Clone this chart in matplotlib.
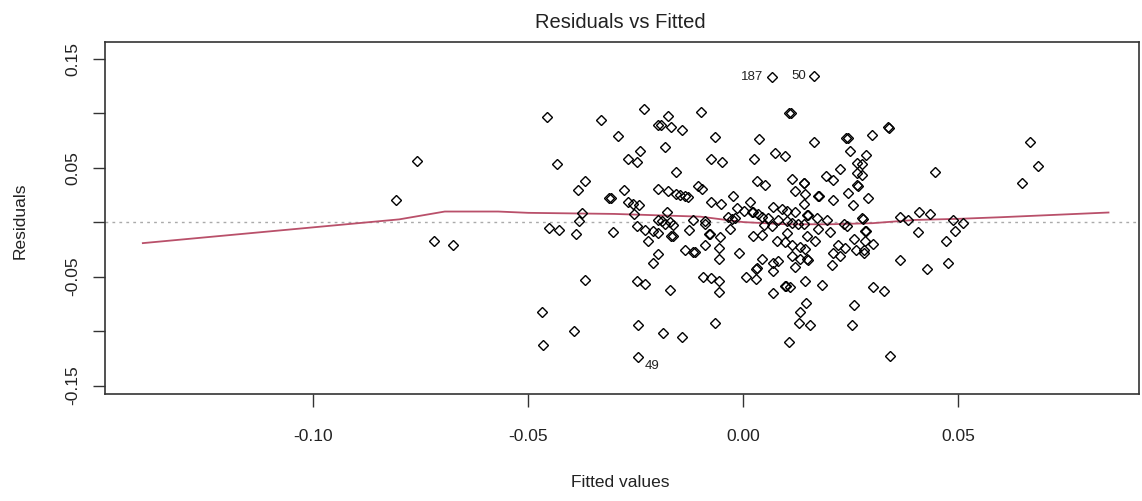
import numpy as np
import matplotlib
matplotlib.use('Agg')
import matplotlib.pyplot as plt

plt.rcParams['font.family'] = ['Liberation Sans', 'DejaVu Sans']
plt.rcParams['text.color'] = '#222222'

# fitted values / residuals
fitted = [
    -0.0808, -0.0758, -0.0719, -0.0676, -0.0457, -0.0451, -0.0469, -0.0465,
    -0.0432, -0.0331, -0.0291, -0.0230, -0.0198, -0.0240, -0.0269, -0.0248,
    -0.0367, -0.0385, -0.0312, -0.0308, -0.0277, -0.0267, -0.0257, -0.0243,
    -0.0198, -0.0374, -0.0253, -0.0381, -0.0198, -0.0428, -0.0389, -0.0302,
    -0.0248, -0.0229, -0.0209, -0.0222, -0.0198, -0.0198, -0.0211, -0.0367,
    -0.0248, -0.0229, -0.0393, -0.0244, -0.0244, -0.0186,
    -0.0174, -0.0098, -0.0192, -0.0167, -0.0142, -0.0066, -0.0182, 0.0036,
    -0.0074, -0.0050, 0.0025, -0.0157, 0.0031, -0.0174, -0.0157, -0.0147,
    -0.0136, -0.0128, -0.0106, -0.0097, -0.0076, -0.0052, -0.0023, -0.0014,
    0.0002, 0.0016, 0.0020, -0.0178, -0.0190, -0.0170, -0.0118, -0.0089,
    -0.0035, -0.0027, -0.0020,
    -0.0182, -0.0163, -0.0167, -0.0163, -0.0126, -0.0089, -0.0080, -0.0077,
    -0.0053, -0.0031, -0.0089, -0.0136, -0.0116, -0.0112, -0.0056, -0.0056,
    -0.0009, -0.0093, -0.0076, -0.0056, -0.0056, 0.0006, 0.0030, 0.0030,
    0.0023, -0.0170, -0.0066, -0.0142,
    0.0066, 0.0165, 0.0107, 0.0111, 0.0165, 0.0239, 0.0243, 0.0248,
    0.0074, 0.0097, 0.0264, 0.0225, 0.0264, 0.0192, 0.0209, 0.0113,
    0.0140, 0.0142, 0.0050, 0.0120, 0.0143, 0.0174, 0.0176, 0.0208,
    0.0244, 0.0264, 0.0256, 0.0140,
    0.0070, 0.0089, 0.0101, 0.0120, 0.0035, 0.0043, 0.0058, 0.0081,
    0.0101, 0.0114, 0.0127, 0.0140, 0.0147, 0.0150, 0.0171, 0.0194,
    0.0233, 0.0275, 0.0023, 0.0044, 0.0240,
    0.0078, 0.0097, 0.0113, 0.0132, 0.0147, 0.0143, 0.0167, 0.0174,
    0.0202, 0.0221, 0.0209, 0.0225, 0.0237, 0.0257, 0.0262, 0.0206,
    0.0113, 0.0132, 0.0147, 0.0150, 0.0120, 0.0043, 0.0070, 0.0081,
    0.0031, 0.0068, 0.0143, 0.0182, 0.0097, 0.0100, 0.0109, 0.0070,
    0.0146, 0.0132, 0.0130, 0.0155, 0.0107, 0.0257, 0.0252, 0.0066,
    0.0047, 0.0101,
    0.0336, 0.0339, 0.0300, 0.0285, 0.0275, 0.0275, 0.0267, 0.0291,
    0.0279, 0.0283, 0.0285, 0.0283, 0.0301, 0.0281, 0.0281, 0.0364,
    0.0384, 0.0409, 0.0434, 0.0446, 0.0406, 0.0488, 0.0510, 0.0492,
    0.0471, 0.0364, 0.0427, 0.0477, 0.0302, 0.0328, 0.0340, 0.0647,
    0.0667, 0.0685,
]
residuals = [
    0.0205, 0.0563, -0.0169, -0.0211, 0.0964, -0.0055, -0.0826, -0.1127,
    0.0533, 0.0933, 0.0790, 0.1038, 0.0887, 0.0655, 0.0578, 0.0547,
    0.0376, 0.0290, 0.0220, 0.0220, 0.0290, 0.0180, 0.0168, 0.0153,
    0.0303, 0.0083, 0.0070, 0.0006, 0.0020, -0.0071, -0.0110, -0.0095,
    -0.0040, -0.0071, -0.0086, -0.0169, -0.0101, -0.0294, -0.0377, -0.0530,
    -0.0539, -0.0567, -0.0998, -0.0943, -0.1240, -0.1014,
    0.0976, 0.1006, 0.0893, 0.0872, 0.0848, 0.0777, 0.0689, 0.0762,
    0.0581, 0.0547, 0.0581, 0.0459, 0.0379, 0.0281, 0.0260, 0.0250,
    0.0235, 0.0226, 0.0327, 0.0306, 0.0189, 0.0165, 0.0235, 0.0129,
    0.0104, 0.0184, 0.0097, 0.0097, 0.0006, 0.0000, 0.0020, 0.0006,
    0.0050, 0.0028, 0.0035,
    -0.0016, -0.0031, -0.0126, -0.0130, -0.0071, -0.0016, -0.0107, -0.0110,
    -0.0138, -0.0064, -0.0208, -0.0254, -0.0270, -0.0272, -0.0239, -0.0340,
    -0.0279, -0.0500, -0.0514, -0.0539, -0.0637, -0.0500, -0.0523, -0.0432,
    -0.0126, -0.0622, -0.0928, -0.1056,
    0.1331, 0.1337, 0.1001, 0.0998, 0.0735, 0.0771, 0.0768, 0.0655,
    0.0634, 0.0603, 0.0542, 0.0487, 0.0450, 0.0419, 0.0388, 0.0395,
    0.0358, 0.0362, 0.0343, 0.0281, 0.0260, 0.0244, 0.0241, 0.0205,
    0.0266, 0.0343, 0.0159, 0.0168,
    0.0134, 0.0122, 0.0104, 0.0097, 0.0073, 0.0051, 0.0042, 0.0021,
    0.0012, -0.0009, -0.0018, -0.0018, 0.0067, 0.0064, 0.0037, 0.0021,
    -0.0018, 0.0037, 0.0092, -0.0120, -0.0040,
    -0.0169, -0.0187, -0.0208, -0.0224, -0.0132, -0.0248, -0.0169, -0.0064,
    -0.0095, -0.0208, -0.0285, -0.0315, -0.0239, -0.0156, -0.0260, -0.0392,
    -0.0309, -0.0340, -0.0340, -0.0345, -0.0413, -0.0340, -0.0371, -0.0361,
    -0.0422, -0.0453, -0.0536, -0.0576, -0.0585, -0.0588, -0.0600, -0.0652,
    -0.0738, -0.0821, -0.0928, -0.0943, -0.1099, -0.0759, -0.0943, -0.0040,
    -0.0025, -0.0101,
    0.0869, 0.0866, 0.0802, 0.0618, 0.0535, 0.0434, 0.0333, 0.0220,
    0.0030, -0.0080, -0.0083, -0.0172, -0.0199, -0.0260, -0.0285, 0.0051,
    0.0015, 0.0092, 0.0076, 0.0459, -0.0095, 0.0021, -0.0009, -0.0080,
    -0.0169, -0.0352, -0.0426, -0.0371, -0.0597, -0.0628, -0.1228, 0.0358,
    0.0731, 0.0517,
]

# smoother line
smooth_x = [-0.1396, -0.0800, -0.0694, -0.0570, -0.0500, -0.0300, -0.0100,
            0.0000, 0.0100, 0.0200, 0.0300, 0.0400, 0.0500, 0.0600, 0.0849]
smooth_y = [-0.0193, 0.0025, 0.0097, 0.0097, 0.0085, 0.0075, 0.0050,
            0.0000, -0.0020, -0.0020, -0.0010, 0.0020, 0.0030, 0.0045, 0.0088]

labels = ['187', '50', '49']
label_x = [0.0066, 0.0165, -0.0244]
label_y = [0.1331, 0.1337, -0.1240]

fig = plt.figure(figsize=(11.42, 5.01), dpi=100)
ax = fig.add_axes([0.0919, 0.213, 0.9055, 0.7026])

ax.axhline(0, color='#aaaaaa', lw=1, ls=(0, (2, 3)))
ax.plot(smooth_x, smooth_y, color='#B9506A', lw=1.3)
ax.plot(fitted, residuals, ls='none', marker='D', markersize=5.3,
        mfc='none', mec='black', mew=1.0)

ax.text(label_x[0] - 0.0019, label_y[0], labels[0], ha='right', va='center', fontsize=9.5)
ax.text(label_x[1] - 0.0019, label_y[1], labels[1], ha='right', va='center', fontsize=9.5)
ax.text(label_x[2] + 0.0015, label_y[2] - 0.0085, labels[2], ha='left', va='center', fontsize=9.5)

ax.set_xlim(-0.1484, 0.0920)
ax.set_ylim(-0.158, 0.165)

ax.set_xticks([-0.10, -0.05, 0.00, 0.05])
ax.set_xticklabels(['-0.10', '-0.05', '0.00', '0.05'])
ax.set_yticks([-0.15, -0.10, -0.05, 0.0, 0.05, 0.10, 0.15])
ax.set_yticklabels(['-0.15', '', '-0.05', '', '0.05', '', '0.15'],
                   rotation=90, va='center')
ax.tick_params(direction='out', length=9, width=1, labelsize=12.5, pad=16,
               colors='#333333', labelcolor='#222222')
ax.tick_params(axis='y', pad=9)

for s in ax.spines.values():
    s.set_linewidth(1.2)
    s.set_color('#333333')

fig.text(0.543, 0.955, 'Residuals vs Fitted', ha='center', va='center', fontsize=14.5)
fig.text(0.543, 0.036, 'Fitted values', ha='center', va='center', fontsize=12.5)
fig.text(0.0175, 0.56, 'Residuals', ha='center', va='center', rotation=90, fontsize=12.5)

fig.savefig('out.png', dpi=100)
